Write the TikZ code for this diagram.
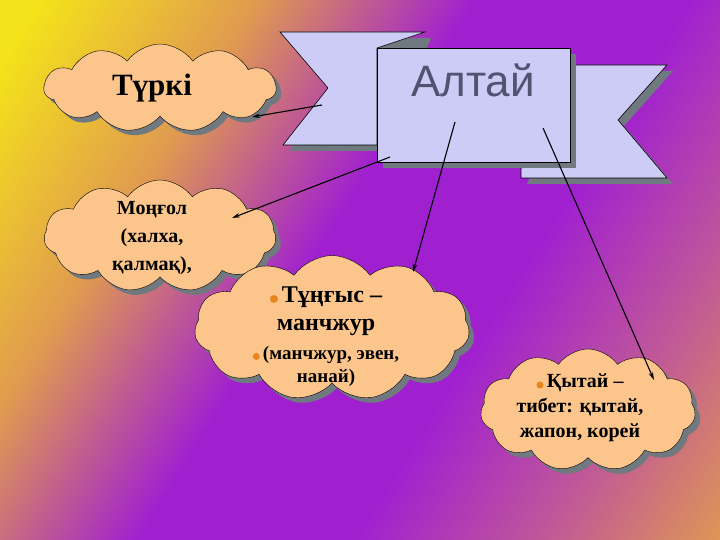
\documentclass[tikz,border=0pt]{standalone}
\usepackage{fontspec}
\setmainfont{Liberation Serif}
\newfontfamily\altfont{Liberation Sans}
\usetikzlibrary{shapes.symbols,shadows,arrows.meta}
\definecolor{peach}{HTML}{FBC58C}
\definecolor{lav}{HTML}{CCCCF6}
\definecolor{shad}{HTML}{707880}
\definecolor{yel}{HTML}{F4E21A}
\definecolor{org}{HTML}{E09A50}
\definecolor{pur}{HTML}{A020D0}
\definecolor{pnk}{HTML}{C05898}
\definecolor{bulc}{HTML}{E8861E}
\pgfdeclarehorizontalshading{bgsh}{100bp}{color(0bp)=(yel);color(32bp)=(yel);color(40bp)=(org);color(48bp)=(pur);color(56bp)=(pur);color(63bp)=(pnk);color(70bp)=(org);color(76bp)=(yel);color(100bp)=(yel)}
\tikzset{
 cl/.style={cloud, cloud puffs=11, cloud puff arc=110, aspect=2.4, draw=black, fill=peach, inner sep=0pt,
   drop shadow={shadow xshift=5pt, shadow yshift=-5pt, fill=shad, opacity=1}},
 tx/.style={align=center, font=\bfseries, text=black},
 rib/.style={draw=black, fill=lav, line width=0.6pt},
 sh/.style={fill=shad},
 arr/.style={-{Stealth[length=8pt,width=4.5pt]}, line width=1.1pt, black},
}
\newcommand{\bulx}[1]{\tikz[baseline=-0.3ex]\fill[bulc] (0,0) circle (#1);\,}
\begin{document}
\begin{tikzpicture}[x=1pt,y=-1pt]
\useasboundingbox (0,0) rectangle (720,540);
\shade[shading=bgsh, shading angle=-32] (-250,-250) rectangle (970,790);
\clip (0,0) rectangle (720,540);
\fill[sh] (286,38) -- (334,94) -- (289,151) -- (383,151) -- (431,38) -- cycle;
\fill[sh] (576,71) -- (673,71) -- (624,126) -- (673,184) -- (527,184) -- cycle;
\draw[rib] (280,32) -- (328,88) -- (283,145) -- (377,145) -- (377,48) -- (425,32) -- cycle;
\draw[rib] (570,65) -- (667,65) -- (618,120) -- (667,178) -- (521,178) -- (521,168) -- (570,162) -- cycle;
\fill[sh] (383,54) rectangle (576,168);
\draw[rib] (377,48) rectangle (570,162);
\node[font=\altfont\fontsize{44}{48}\selectfont, text={rgb,255:red,80;green,84;blue,112}] (alt) at (473,80) {Алтай};
\node[cl, minimum width=232pt, minimum height=88pt] (turk) at (160,88) {};
\node[tx, font=\bfseries\fontsize{31}{34}\selectfont] at (152,88) {Түркі};
\node[cl, minimum width=232pt, minimum height=112pt] (mon) at (160,236) {};
\node[tx, font=\bfseries\fontsize{20}{28}\selectfont] at (152,238) {Моңғол\\(халха,\\қалмақ),};
\node[cl, minimum width=275pt, minimum height=145pt] (tung) at (332,328) {};
\node[tx, font=\bfseries\fontsize{24}{28}\selectfont] at (326,311) {\bulx{4pt}Тұңғыс –\\манчжур};
\node[tx, font=\bfseries\fontsize{19}{23}\selectfont] at (326,366) {\bulx{3.5pt}(манчжур, эвен,\\нанай)};
\node[cl, minimum width=215pt, minimum height=122pt] (kyt) at (588,410) {};
\node[tx, font=\bfseries\fontsize{20}{25}\selectfont] at (580,408) {\bulx{3.5pt}Қытай –\\тибет: қытай,\\жапон, корей};
\coordinate (a1) at (322,105); \coordinate (t1) at (252,117);
\coordinate (a2) at (390,157); \coordinate (t2) at (232,218);
\coordinate (a3) at (455,122); \coordinate (t3) at (413,272);
\coordinate (a4) at (543,128); \coordinate (t4) at (654,380);
\draw[arr] (a1) -- (t1);
\draw[arr] (a2) -- (t2);
\draw[arr] (a3) -- (t3);
\draw[arr] (a4) -- (t4);
\end{tikzpicture}
\end{document}
